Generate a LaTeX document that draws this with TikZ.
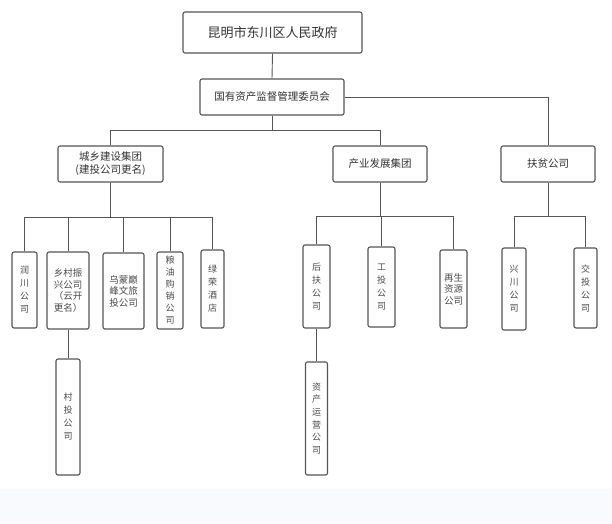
\documentclass[tikz,border=0pt]{standalone}
\usepackage{fontspec}
\setmainfont{Noto Sans CJK SC}
\usetikzlibrary{calc}
\definecolor{boxline}{HTML}{555555}
\definecolor{txt}{HTML}{333333}
\definecolor{txtsmall}{HTML}{4A4A4A}
\definecolor{band}{HTML}{F8FAFD}
\begin{document}
\begin{tikzpicture}[x=1pt,y=-1pt,
  orgbox/.style={draw=boxline,line width=1.1pt,rounded corners=2pt,fill=white,
    inner sep=0pt,align=center,text=txt},
  vbox/.style={orgbox,text=txtsmall,font=\fontsize{9}{13}\selectfont},
  link/.style={draw=boxline,line width=0.9pt}]
\useasboundingbox (0,0) rectangle (612,523);
\fill[band] (0,489) rectangle (612,523);

% level 0 and 1
\node[orgbox,minimum width=179pt,minimum height=41pt,font=\fontsize{13}{15}\selectfont] (gov) at (272.5,32.5) {昆明市东川区人民政府};
\node[orgbox,minimum width=144pt,minimum height=36pt,font=\fontsize{10.5}{13}\selectfont] (sasac) at (272,97) {国有资产监督管理委员会};

% level 2
\node[orgbox,minimum width=105pt,minimum height=36pt,font=\fontsize{10.5}{13}\selectfont] (cx) at (110.5,164) {城乡建设集团\\(建投公司更名)};
\node[orgbox,minimum width=94pt,minimum height=36pt,font=\fontsize{10.5}{13}\selectfont] (cy) at (380,164) {产业发展集团};
\node[orgbox,minimum width=94pt,minimum height=36pt,font=\fontsize{10.5}{13}\selectfont] (fp) at (548,164) {扶贫公司};

% level 3 under 城乡
\node[vbox,minimum width=25pt,minimum height=76pt] (rc) at (24.5,290) {润\\川\\公\\司};
\node[vbox,minimum width=42pt,minimum height=77pt,font=\fontsize{9.5}{11.5}\selectfont] (xc1) at (68,290.5) {乡村振\\兴公司\\（云开\\更名）};
\node[vbox,minimum width=41pt,minimum height=76pt,font=\fontsize{9.5}{11.5}\selectfont] (wm) at (123.5,291) {乌蒙巅\\峰文旅\\投公司};
\node[vbox,minimum width=26pt,minimum height=77pt,font=\fontsize{9}{12}\selectfont] (ly) at (170,290.5) {粮\\油\\购\\销\\公\\司};
\node[vbox,minimum width=23pt,minimum height=78pt] (lr) at (212.5,289) {绿\\荣\\酒\\店};

% level 3 under 产业
\node[vbox,minimum width=27pt,minimum height=83pt] (hf) at (316.5,286.5) {后\\扶\\公\\司};
\node[vbox,minimum width=27pt,minimum height=80pt] (gt) at (381.5,287) {工\\投\\公\\司};
\node[vbox,minimum width=27pt,minimum height=78pt,font=\fontsize{9.5}{11.5}\selectfont] (zs) at (453.5,289) {再生\\资源\\公司};

% level 3 under 扶贫
\node[vbox,minimum width=24pt,minimum height=82pt] (xc2) at (514,289) {兴\\川\\公\\司};
\node[vbox,minimum width=23pt,minimum height=80pt] (jt) at (585.5,288) {交\\投\\公\\司};

% level 4
\node[vbox,minimum width=24pt,minimum height=116pt] (ct) at (68,417) {村\\投\\公\\司};
\node[vbox,minimum width=22pt,minimum height=113pt,font=\fontsize{9}{12.7}\selectfont] (zc) at (316.5,418.5) {资\\产\\运\\营\\公\\司};

% connectors
\draw[link] (gov.south) -- (sasac.north);
\draw[link] (sasac.south) -- ++(0,15) -| (cx.north);
\draw[link] (sasac.south) -- ++(0,15) -| (cy.north);
\draw[link] (sasac.east) -| (fp.north);

\foreach \c in {rc,xc1,wm,ly,lr}{\draw[link] (cx.south) -- ++(0,35) -| (\c.north);}
\foreach \c in {hf,gt,zs}{\draw[link] (cy.south) -- ++(0,34) -| (\c.north);}
\foreach \c in {xc2,jt}{\draw[link] (fp.south) -- ++(0,34) -| (\c.north);}

\draw[link] (xc1.south) -- (ct.north);
\draw[link] (hf.south) -- (zc.north);
\end{tikzpicture}
\end{document}
